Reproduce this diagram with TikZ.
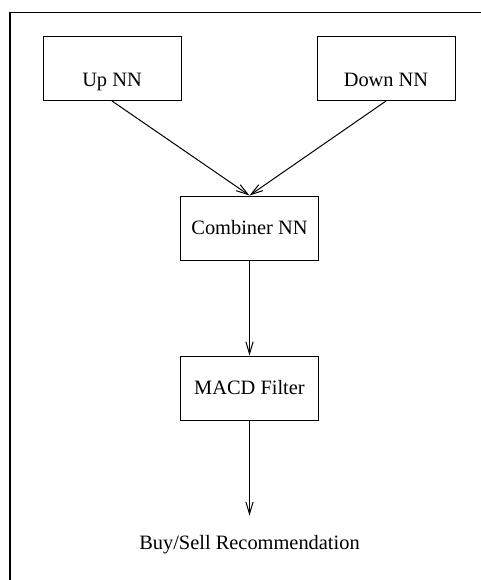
\documentclass[tikz,border=0pt]{standalone}
\usepackage{fontspec}
\setmainfont{Liberation Serif}
\usetikzlibrary{arrows.meta}
\begin{document}
\begin{tikzpicture}[x=0.5pt,y=-0.5pt,
    every node/.style={font=\fontsize{10.2}{12}\selectfont},
    box/.style={draw, line width=0.5pt, minimum width=69pt, minimum height=32pt, inner sep=0pt},
    lowtext/.style={text height=18.3pt, text depth=0pt},
    arr/.style={-{Straight Barb[length=6pt,width=3.6pt]}, line width=0.5pt}]
      \useasboundingbox (0,0) rectangle (481,580);

      % frame
      \draw [line width=0.5pt] (10,580) -- (10,12) -- (481,12);

      % networks
      \node [box, lowtext] (up) at (112,68.5) {Up NN};
      \node [box, lowtext] (down) at (386,68.5) {Down NN};
      \node [box] (comb) at (249.5,228) {Combiner NN};

      % filter
      \node [box] (macd) at (249.5,388) {MACD Filter};

      % output
      \node [anchor=base, inner ysep=9.4pt] (rec) at (249.5,549) {Buy/Sell Recommendation};

      % arrows
      \draw [arr] (up.south) -- (comb.north);
      \draw [arr] (down.south) -- (comb.north);
      \draw [arr] (comb) -- (macd);
      \draw [arr] (macd) -- (rec);

    \end{tikzpicture}
\end{document}
